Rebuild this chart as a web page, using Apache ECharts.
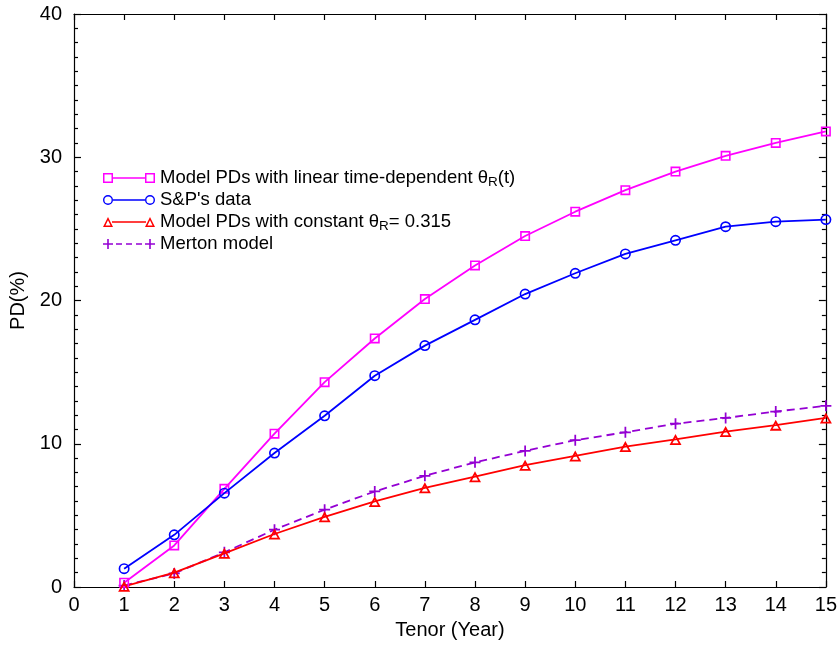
<!DOCTYPE html>
<html>
<head>
<meta charset="utf-8">
<script src="https://cdn.jsdelivr.net/npm/echarts@6/dist/echarts.min.js"></script>
<style>html,body{margin:0;padding:0;background:#fff}#c{width:840px;height:645px}</style>
</head>
<body>
<div id="c"></div>
<script>
// ---- data ----
const tenors = [1, 2, 3, 4, 5, 6, 7, 8, 9, 10, 11, 12, 13, 14, 15];
const modelLinear = [0.3, 2.9, 6.85, 10.7, 14.3, 17.35, 20.1, 22.45, 24.5, 26.2, 27.7, 29.0, 30.1, 31.0, 31.8];
const spData = [1.28, 3.64, 6.55, 9.35, 11.95, 14.75, 16.85, 18.65, 20.45, 21.9, 23.25, 24.2, 25.15, 25.5, 25.65];
const modelConst = [0.05, 1.0, 2.35, 3.7, 4.9, 5.97, 6.92, 7.7, 8.5, 9.15, 9.8, 10.3, 10.85, 11.3, 11.8];
const merton = [0.1, 0.95, 2.42, 4.0, 5.4, 6.67, 7.76, 8.7, 9.5, 10.25, 10.8, 11.4, 11.8, 12.25, 12.65];
const xTicks = [0, 1, 2, 3, 4, 5, 6, 7, 8, 9, 10, 11, 12, 13, 14, 15];
const yTicks = [0, 10, 20, 30, 40];
const seriesNames = [
  'Model PDs with linear time-dependent θR(t)',
  "S&P's data",
  'Model PDs with constant θR= 0.315',
  'Merton model'
];
const legendLabels = [
  'Model PDs with linear time-dependent θ{sub|R}(t)',
  "S&P's data",
  'Model PDs with constant θ{sub|R}= 0.315',
  'Merton model'
];

const FONT = 'Liberation Sans, Arial, Helvetica, sans-serif';
const cMag = '#ff00ff', cBlue = '#0000ff', cRed = '#ff0000', cPur = '#9400d3';

// hollow marker shapes (ring paths, transparent centre)
const symSquare = 'path://M0 0H10V10H0Z M1.6 1.6V8.4H8.4V1.6Z';
const symCircle = 'path://M0 5A5 5 0 0 1 10 5A5 5 0 0 1 0 5Z M1.5 5A3.5 3.5 0 0 0 8.5 5A3.5 3.5 0 0 0 1.5 5Z';
const symTri = 'path://M5 0L10 10L0 10Z M5 3.5L2.4 8.4L7.6 8.4Z';
const symPlus = 'path://M4.2 0H5.8V10H4.2Z M0 4.2H10V5.8H0Z';

// legend icons: marker - line - marker (52 x 10)
const lgSquare = 'path://M0 0H10V10H0Z M1.5 1.5V8.5H8.5V1.5Z M10 4.2H42V5.8H10Z M42 0H52V10H42Z M43.5 1.5V8.5H50.5V1.5Z';
const lgCircle = 'path://M0 5A5 5 0 0 1 10 5A5 5 0 0 1 0 5Z M1.4 5A3.6 3.6 0 0 0 8.6 5A3.6 3.6 0 0 0 1.4 5Z M10 4.2H42V5.8H10Z M42 5A5 5 0 0 1 52 5A5 5 0 0 1 42 5Z M43.4 5A3.6 3.6 0 0 0 50.6 5A3.6 3.6 0 0 0 43.4 5Z';
const lgTri = 'path://M5 0L10 10L0 10Z M5 3.35L2.43 8.5L7.57 8.5Z M9 4.2H43V5.8H9Z M47 0L52 10L42 10Z M47 3.35L44.43 8.5L49.57 8.5Z';
const lgPlus = 'path://M4.2 0H5.8V10H4.2Z M0 4.2H10V5.8H0Z M13 4.2H19V5.8H13Z M23 4.2H29V5.8H23Z M33 4.2H39V5.8H33Z M46.2 0H47.8V10H46.2Z M42 4.2H52V5.8H42Z';

const pair = (ys) => tenors.map((t, i) => [t, ys[i]]);

const chart = echarts.init(document.getElementById('c'), null, {renderer: 'canvas'});

const axisLineStyle = {color: '#000', width: 1.2};
const option = {
  animation: false,
  backgroundColor: '#fff',
  textStyle: {fontFamily: FONT, color: '#000'},
  grid: {left: 74, right: 13, top: 14, bottom: 58, containLabel: false},
  legend: {
    orient: 'vertical',
    left: 103,
    top: 167,
    padding: 0,
    itemWidth: 52,
    itemHeight: 10,
    itemGap: 0,
    symbolKeepAspect: false,
    selectedMode: false,
    itemStyle: {borderWidth: 0},
    textStyle: {
      fontFamily: FONT, fontSize: 18.5, color: '#000', lineHeight: 22,
      rich: {sub: {fontFamily: FONT, fontSize: 13.5, lineHeight: 10, verticalAlign: 'bottom', color: '#000'}}
    },
    formatter: (name) => legendLabels[seriesNames.indexOf(name)],
    data: [
      {name: seriesNames[0], icon: lgSquare},
      {name: seriesNames[1], icon: lgCircle},
      {name: seriesNames[2], icon: lgTri},
      {name: seriesNames[3], icon: lgPlus}
    ]
  },
  xAxis: [{
    type: 'value', min: xTicks[0], max: xTicks[xTicks.length - 1], interval: 1,
    position: 'bottom',
    name: 'Tenor (Year)', nameLocation: 'middle', nameGap: 33,
    nameTextStyle: {fontFamily: FONT, fontSize: 20, color: '#000'},
    axisLine: {show: true, onZero: false, lineStyle: axisLineStyle},
    axisTick: {show: true, inside: true, length: 6, lineStyle: {color: '#000', width: 1.2}},
    axisLabel: {show: true, margin: 8, fontFamily: FONT, fontSize: 20, color: '#000'},
    splitLine: {show: false}
  }, {
    type: 'value', min: xTicks[0], max: xTicks[xTicks.length - 1], interval: 1,
    position: 'top',
    axisLine: {show: true, onZero: false, lineStyle: axisLineStyle},
    axisTick: {show: true, inside: true, length: 6, lineStyle: {color: '#000', width: 1.2}},
    axisLabel: {show: false},
    splitLine: {show: false}
  }],
  yAxis: [{
    type: 'value', min: yTicks[0], max: yTicks[yTicks.length - 1], interval: 10,
    position: 'left',
    name: 'PD(%)', nameLocation: 'middle', nameGap: 45,
    nameTextStyle: {fontFamily: FONT, fontSize: 20, color: '#000'},
    axisLine: {show: true, onZero: false, lineStyle: axisLineStyle},
    axisTick: {show: true, inside: true, length: 7, lineStyle: {color: '#000', width: 1.2}},
    minorTick: {show: true, splitNumber: 10, length: 4, lineStyle: {color: '#000', width: 1.2}},
    axisLabel: {show: true, margin: 12, fontFamily: FONT, fontSize: 20, color: '#000'},
    splitLine: {show: false}
  }, {
    type: 'value', min: yTicks[0], max: yTicks[yTicks.length - 1], interval: 10,
    position: 'right',
    axisLine: {show: true, onZero: false, lineStyle: axisLineStyle},
    axisTick: {show: true, inside: true, length: 7, lineStyle: {color: '#000', width: 1.2}},
    minorTick: {show: true, splitNumber: 10, length: 4, lineStyle: {color: '#000', width: 1.2}},
    axisLabel: {show: false},
    splitLine: {show: false}
  }],
  series: [
    {
      name: seriesNames[0], type: 'line', data: pair(modelLinear),
      symbol: symSquare, symbolSize: 10,
      itemStyle: {color: cMag, borderWidth: 0},
      lineStyle: {color: cMag, width: 1.8}, z: 3
    },
    {
      name: seriesNames[1], type: 'line', data: pair(spData),
      symbol: symCircle, symbolSize: 11,
      itemStyle: {color: cBlue, borderWidth: 0},
      lineStyle: {color: cBlue, width: 1.8}, z: 4
    },
    {
      name: seriesNames[2], type: 'line', data: pair(modelConst),
      symbol: symTri, symbolSize: [12, 11],
      itemStyle: {color: cRed, borderWidth: 0},
      lineStyle: {color: cRed, width: 1.8}, z: 3
    },
    {
      name: seriesNames[3], type: 'line', data: pair(merton),
      symbol: symPlus, symbolSize: 11,
      itemStyle: {color: cPur, borderWidth: 0},
      lineStyle: {color: cPur, width: 1.8, type: [8, 5]}, z: 2
    }
  ]
};
chart.setOption(option);
</script>
</body>
</html>
